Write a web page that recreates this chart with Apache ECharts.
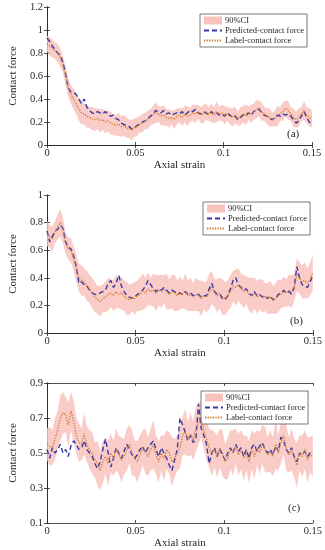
<!DOCTYPE html>
<html>
<head>
<meta charset="utf-8">
<script src="https://cdn.jsdelivr.net/npm/echarts@6/dist/echarts.min.js"></script>
<style>html,body{margin:0;padding:0;background:#fff}#c{width:325px;height:550px}</style>
</head>
<body>
<div id="c"></div>
<script>
var strain = [0,0.0015,0.003,0.0045,0.006,0.0075,0.009,0.0105,0.012,0.0135,
0.015,0.0165,0.018,0.0195,0.021,0.0225,0.024,0.0255,0.027,0.0285,
0.03,0.0315,0.033,0.0345,0.036,0.0375,0.039,0.0405,0.042,0.0435,
0.045,0.0465,0.048,0.0495,0.051,0.0525,0.054,0.0555,0.057,0.0585,
0.06,0.0615,0.063,0.0645,0.066,0.0675,0.069,0.0705,0.072,0.0735,
0.075,0.0765,0.078,0.0795,0.081,0.0825,0.084,0.0855,0.087,0.0885,
0.09,0.0915,0.093,0.0945,0.096,0.0975,0.099,0.1005,0.102,0.1035,
0.105,0.1065,0.108,0.1095,0.111,0.1125,0.114,0.1155,0.117,0.1185,
0.12,0.1215,0.123,0.1245,0.126,0.1275,0.129,0.1305,0.132,0.1335,
0.135,0.1365,0.138,0.1395,0.141,0.1425,0.144,0.1455,0.147,0.1485,
0.15];

// Panel (a)
var labelA = [0.88,0.86,0.84,0.82,0.80,0.76,0.70,0.60,0.50,0.44,
0.40,0.36,0.31,0.28,0.27,0.25,0.24,0.23,0.22,0.23,
0.21,0.22,0.20,0.21,0.19,0.18,0.17,0.18,0.16,0.17,
0.15,0.14,0.13,0.15,0.16,0.18,0.19,0.21,0.22,0.24,
0.26,0.28,0.27,0.25,0.26,0.24,0.23,0.24,0.22,0.25,
0.26,0.24,0.27,0.25,0.26,0.28,0.27,0.29,0.26,0.27,
0.29,0.27,0.28,0.26,0.29,0.27,0.28,0.26,0.27,0.25,
0.24,0.26,0.23,0.25,0.27,0.26,0.28,0.27,0.29,0.31,
0.32,0.29,0.27,0.25,0.24,0.22,0.23,0.25,0.27,0.29,
0.32,0.30,0.27,0.24,0.22,0.24,0.27,0.30,0.26,0.24,
0.23];
var predA = [0.93,0.90,0.86,0.83,0.80,0.78,0.72,0.62,0.50,0.46,
0.46,0.44,0.40,0.36,0.40,0.33,0.30,0.28,0.27,0.29,
0.28,0.27,0.29,0.27,0.25,0.26,0.23,0.22,0.19,0.18,
0.17,0.16,0.14,0.15,0.17,0.18,0.20,0.21,0.23,0.25,
0.27,0.30,0.29,0.28,0.30,0.27,0.28,0.26,0.27,0.28,
0.27,0.29,0.26,0.28,0.30,0.29,0.31,0.28,0.27,0.29,
0.28,0.26,0.29,0.27,0.28,0.26,0.27,0.25,0.28,0.26,
0.24,0.25,0.22,0.24,0.26,0.25,0.28,0.26,0.29,0.31,
0.31,0.28,0.26,0.25,0.23,0.22,0.24,0.26,0.25,0.27,
0.26,0.27,0.25,0.22,0.19,0.21,0.25,0.29,0.24,0.20,
0.18];
var ciA = [0.07,0.08,0.08,0.07,0.08,0.08,0.07,0.08,0.08,0.08,
0.09,0.09,0.10,0.10,0.09,0.10,0.09,0.10,0.10,0.09,
0.10,0.09,0.10,0.09,0.10,0.09,0.09,0.10,0.09,0.09,
0.09,0.08,0.09,0.08,0.08,0.07,0.08,0.07,0.08,0.07,
0.08,0.09,0.07,0.08,0.09,0.07,0.08,0.06,0.08,0.07,
0.06,0.08,0.07,0.09,0.06,0.07,0.08,0.06,0.07,0.08,
0.07,0.06,0.08,0.07,0.09,0.06,0.07,0.08,0.06,0.07,
0.08,0.07,0.06,0.08,0.07,0.09,0.06,0.08,0.07,0.08,
0.07,0.08,0.06,0.07,0.08,0.06,0.07,0.09,0.06,0.08,
0.07,0.08,0.06,0.08,0.07,0.08,0.06,0.08,0.07,0.08,
0.07];

// Panel (b)
var labelB = [0.72,0.70,0.68,0.73,0.77,0.80,0.74,0.65,0.61,0.60,
0.54,0.47,0.40,0.38,0.37,0.34,0.32,0.29,0.26,0.24,
0.23,0.25,0.26,0.28,0.29,0.27,0.30,0.28,0.29,0.27,
0.25,0.24,0.26,0.25,0.27,0.28,0.30,0.29,0.32,0.30,
0.31,0.29,0.31,0.30,0.32,0.30,0.28,0.30,0.29,0.27,
0.29,0.28,0.30,0.27,0.28,0.26,0.28,0.27,0.25,0.27,
0.26,0.30,0.33,0.29,0.27,0.29,0.26,0.25,0.27,0.30,
0.34,0.33,0.35,0.32,0.30,0.31,0.28,0.27,0.29,0.26,
0.28,0.27,0.26,0.25,0.26,0.24,0.25,0.27,0.28,0.30,
0.29,0.31,0.30,0.33,0.42,0.40,0.37,0.38,0.36,0.39,
0.44];
var predB = [0.74,0.66,0.70,0.74,0.75,0.78,0.76,0.66,0.62,0.61,
0.56,0.48,0.36,0.37,0.35,0.34,0.31,0.29,0.28,0.28,
0.29,0.30,0.31,0.36,0.38,0.33,0.36,0.42,0.34,0.30,
0.27,0.26,0.25,0.26,0.28,0.29,0.31,0.34,0.38,0.35,
0.32,0.30,0.32,0.31,0.33,0.31,0.29,0.31,0.30,0.28,
0.29,0.28,0.30,0.28,0.29,0.27,0.28,0.28,0.26,0.27,
0.27,0.32,0.36,0.30,0.28,0.28,0.25,0.24,0.27,0.32,
0.38,0.40,0.35,0.33,0.31,0.32,0.29,0.27,0.30,0.27,
0.28,0.26,0.27,0.25,0.27,0.24,0.25,0.28,0.29,0.31,
0.29,0.30,0.28,0.33,0.48,0.40,0.35,0.34,0.33,0.37,
0.42];
var ciB = [0.09,0.08,0.09,0.08,0.09,0.10,0.09,0.08,0.08,0.09,
0.09,0.10,0.10,0.11,0.10,0.11,0.10,0.11,0.11,0.10,
0.11,0.10,0.11,0.12,0.10,0.11,0.12,0.10,0.12,0.11,
0.12,0.11,0.10,0.12,0.11,0.12,0.13,0.11,0.12,0.10,
0.12,0.13,0.11,0.12,0.10,0.13,0.11,0.12,0.13,0.11,
0.12,0.10,0.13,0.11,0.12,0.10,0.12,0.11,0.13,0.10,
0.11,0.13,0.12,0.10,0.12,0.11,0.13,0.12,0.11,0.12,
0.11,0.13,0.12,0.11,0.12,0.10,0.12,0.13,0.11,0.12,
0.11,0.12,0.10,0.11,0.12,0.10,0.11,0.12,0.10,0.11,
0.10,0.11,0.12,0.10,0.12,0.11,0.12,0.13,0.11,0.12,
0.13];

// Panel (c)
var labelC = [0.55,0.54,0.53,0.58,0.63,0.70,0.73,0.72,0.66,0.74,
0.68,0.60,0.56,0.55,0.61,0.55,0.52,0.50,0.46,0.44,
0.40,0.45,0.48,0.44,0.50,0.47,0.52,0.49,0.46,0.48,
0.52,0.55,0.50,0.47,0.45,0.49,0.53,0.51,0.48,0.52,
0.55,0.49,0.45,0.50,0.47,0.52,0.50,0.45,0.47,0.50,
0.53,0.60,0.62,0.58,0.61,0.57,0.64,0.67,0.69,0.63,
0.58,0.53,0.50,0.52,0.48,0.53,0.50,0.45,0.47,0.52,
0.50,0.54,0.49,0.52,0.47,0.50,0.45,0.52,0.48,0.53,
0.50,0.55,0.52,0.49,0.51,0.48,0.55,0.50,0.56,0.60,
0.53,0.49,0.52,0.47,0.43,0.50,0.48,0.52,0.46,0.49,
0.48];
var predC = [0.52,0.47,0.53,0.50,0.52,0.55,0.50,0.52,0.48,0.54,
0.57,0.55,0.52,0.53,0.57,0.52,0.50,0.48,0.44,0.41,
0.45,0.52,0.58,0.50,0.42,0.47,0.53,0.50,0.47,0.51,
0.55,0.52,0.49,0.47,0.49,0.52,0.54,0.50,0.53,0.55,
0.57,0.52,0.48,0.53,0.50,0.47,0.43,0.40,0.46,0.52,
0.70,0.66,0.62,0.57,0.60,0.56,0.58,0.78,0.64,0.60,
0.55,0.44,0.50,0.53,0.48,0.52,0.49,0.46,0.50,0.53,
0.50,0.55,0.51,0.53,0.48,0.52,0.47,0.53,0.55,0.51,
0.54,0.56,0.52,0.50,0.52,0.49,0.54,0.51,0.59,0.57,
0.52,0.50,0.53,0.48,0.45,0.50,0.49,0.51,0.48,0.50,
0.49];
var ciC = [0.09,0.11,0.10,0.12,0.11,0.13,0.12,0.10,0.13,0.11,
0.12,0.10,0.11,0.09,0.12,0.10,0.11,0.12,0.10,0.13,
0.11,0.12,0.10,0.13,0.11,0.10,0.12,0.11,0.13,0.10,
0.12,0.11,0.13,0.10,0.12,0.11,0.10,0.13,0.11,0.12,
0.14,0.11,0.12,0.10,0.13,0.11,0.12,0.14,0.11,0.10,
0.12,0.11,0.13,0.10,0.12,0.11,0.13,0.12,0.10,0.11,
0.12,0.11,0.13,0.10,0.12,0.11,0.13,0.10,0.12,0.11,
0.13,0.10,0.12,0.11,0.13,0.10,0.12,0.11,0.13,0.10,
0.12,0.11,0.13,0.10,0.12,0.11,0.14,0.10,0.12,0.11,
0.13,0.10,0.12,0.11,0.13,0.10,0.12,0.11,0.13,0.10,
0.12];

var xTicks = [0, 0.05, 0.1, 0.15];
var xTickLabels = ['0', '0.05', '0.1', '0.15'];
var yTicksA = [0, 0.2, 0.4, 0.6, 0.8, 1, 1.2];
var yTickLabelsA = ['0', '0.2', '0.4', '0.6', '0.8', '1', '1.2'];
var yTicksB = [0, 0.2, 0.4, 0.6, 0.8, 1];
var yTickLabelsB = ['0', '0.2', '0.4', '0.6', '0.8', '1'];
var yTicksC = [0.1, 0.3, 0.5, 0.7, 0.9];
var yTickLabelsC = ['0.1', '0.3', '0.5', '0.7', '0.9'];
var panelTags = ['(a)', '(b)', '(c)'];
var legendNames = ['90%CI', 'Predicted-contact force', 'Label-contact force'];

var panels = [
  {label: labelA, pred: predA, ci: ciA, yt: yTicksA, ytl: yTickLabelsA, ymin: 0, ymax: 1.2,
   grid: {left: 40, right: 13, top: 7, height: 138}, legend: {left: 200, top: 14},
   tag: [287, 136], xGap: 12, yGap: 21},
  {label: labelB, pred: predB, ci: ciB, yt: yTicksB, ytl: yTickLabelsB, ymin: 0, ymax: 1,
   grid: {left: 39, right: 10, top: 195, height: 138}, legend: {left: 203, top: 202},
   tag: [290, 323], xGap: 13, yGap: 21},
  {label: labelC, pred: predC, ci: ciC, yt: yTicksC, ytl: yTickLabelsC, ymin: 0.1, ymax: 0.9,
   grid: {left: 37, right: 12, top: 383, height: 140}, legend: {left: 201, top: 391},
   tag: [288, 510], xGap: 12, yGap: 20}
];

var FONT = 'Liberation Serif';
var AX = '#262626';
var CI_COLOR = '#f9c3bd';
var PRED_COLOR = '#3a3aa6';
var LABEL_COLOR = '#cf7d30';

function mapLabel(vals, labs) {
  return function (v) {
    for (var i = 0; i < vals.length; i++) if (Math.abs(vals[i] - v) < 1e-9) return labs[i];
    return '';
  };
}

var grids = [], xAxes = [], yAxes = [], series = [], legends = [], graphics = [];
panels.forEach(function (p, k) {
  grids.push(p.grid);
  var common = {
    gridIndex: k, type: 'value',
    axisLine: {show: true, lineStyle: {color: AX, width: 0.8}},
    splitLine: {show: false}
  };
  xAxes.push(Object.assign({}, common, {
    position: 'bottom', min: 0, max: 0.15,
    name: 'Axial strain', nameLocation: 'middle', nameGap: p.xGap,
    nameTextStyle: {fontFamily: FONT, fontSize: 11, color: AX},
    axisTick: {show: true, inside: true, length: 3, customValues: xTicks, lineStyle: {color: AX, width: 0.8}},
    axisLabel: {show: true, margin: 3, customValues: xTicks, formatter: mapLabel(xTicks, xTickLabels),
      fontFamily: FONT, fontSize: 10.5, color: AX}
  }));
  xAxes.push(Object.assign({}, common, {
    position: 'top', min: 0, max: 0.15,
    axisTick: {show: true, inside: true, length: 3, customValues: xTicks, lineStyle: {color: AX, width: 0.8}},
    axisLabel: {show: false}
  }));
  yAxes.push(Object.assign({}, common, {
    position: 'left', min: p.ymin, max: p.ymax,
    name: 'Contact force', nameLocation: 'middle', nameGap: p.yGap,
    nameTextStyle: {fontFamily: FONT, fontSize: 11, color: AX},
    axisTick: {show: true, inside: true, length: 3, customValues: p.yt, lineStyle: {color: AX, width: 0.8}},
    axisLabel: {show: true, margin: 4, customValues: p.yt, formatter: mapLabel(p.yt, p.ytl),
      fontFamily: FONT, fontSize: 10.5, color: AX}
  }));
  yAxes.push(Object.assign({}, common, {
    position: 'right', min: p.ymin, max: p.ymax,
    axisTick: {show: true, inside: true, length: 3, customValues: p.yt, lineStyle: {color: AX, width: 0.8}},
    axisLabel: {show: false}
  }));
  var xi = 2 * k, yi = 2 * k;
  (function (p) {
    series.push({
      type: 'custom', name: legendNames[0], xAxisIndex: xi, yAxisIndex: yi,
      data: [[strain[0], p.label[0]]], silent: true, z: 1,
      itemStyle: {color: CI_COLOR},
      renderItem: function (params, api) {
        var pts = [];
        for (var i = 0; i < strain.length; i++) pts.push(api.coord([strain[i], p.label[i] + p.ci[i]]));
        for (var j = strain.length - 1; j >= 0; j--) pts.push(api.coord([strain[j], p.label[j] - p.ci[j]]));
        return {type: 'polygon', shape: {points: pts}, style: {fill: CI_COLOR, opacity: 0.85}};
      }
    });
  })(p);
  series.push({
    type: 'line', name: legendNames[1], xAxisIndex: xi, yAxisIndex: yi,
    data: strain.map(function (x, i) { return [x, p.pred[i]]; }), symbol: 'none',
    itemStyle: {color: PRED_COLOR},
    lineStyle: {color: PRED_COLOR, width: 1.4, type: [5, 3]}, z: 3
  });
  series.push({
    type: 'line', name: legendNames[2], xAxisIndex: xi, yAxisIndex: yi,
    data: strain.map(function (x, i) { return [x, p.label[i]]; }), symbol: 'none',
    itemStyle: {color: LABEL_COLOR},
    lineStyle: {color: LABEL_COLOR, width: 1.3, type: [1.3, 1.3]}, z: 4
  });
  legends.push({
    left: p.legend.left, top: p.legend.top, orient: 'vertical',
    backgroundColor: '#fff', borderColor: '#555', borderWidth: 0.8, borderRadius: 0,
    padding: [2, 3, 2, 3], itemGap: 1, itemWidth: 18, itemHeight: 8,
    selectedMode: false,
    textStyle: {fontFamily: FONT, fontSize: 8.5, color: AX, padding: [0, 0, 0, -2]},
    data: [
      {name: legendNames[0], icon: 'rect', itemStyle: {color: CI_COLOR}},
      {name: legendNames[1], itemStyle: {opacity: 0}},
      {name: legendNames[2], itemStyle: {opacity: 0}}
    ]
  });
  graphics.push({
    type: 'text', left: p.tag[0], top: p.tag[1] - 7, z: 10,
    style: {text: panelTags[k], font: '11px "Liberation Serif"', fill: AX}
  });
});

var chart = echarts.init(document.getElementById('c'), null, {renderer: 'canvas'});
chart.setOption({
  animation: false,
  backgroundColor: '#fff',
  grid: grids, xAxis: xAxes, yAxis: yAxes, series: series, legend: legends, graphic: graphics
});
</script>
</body>
</html>
